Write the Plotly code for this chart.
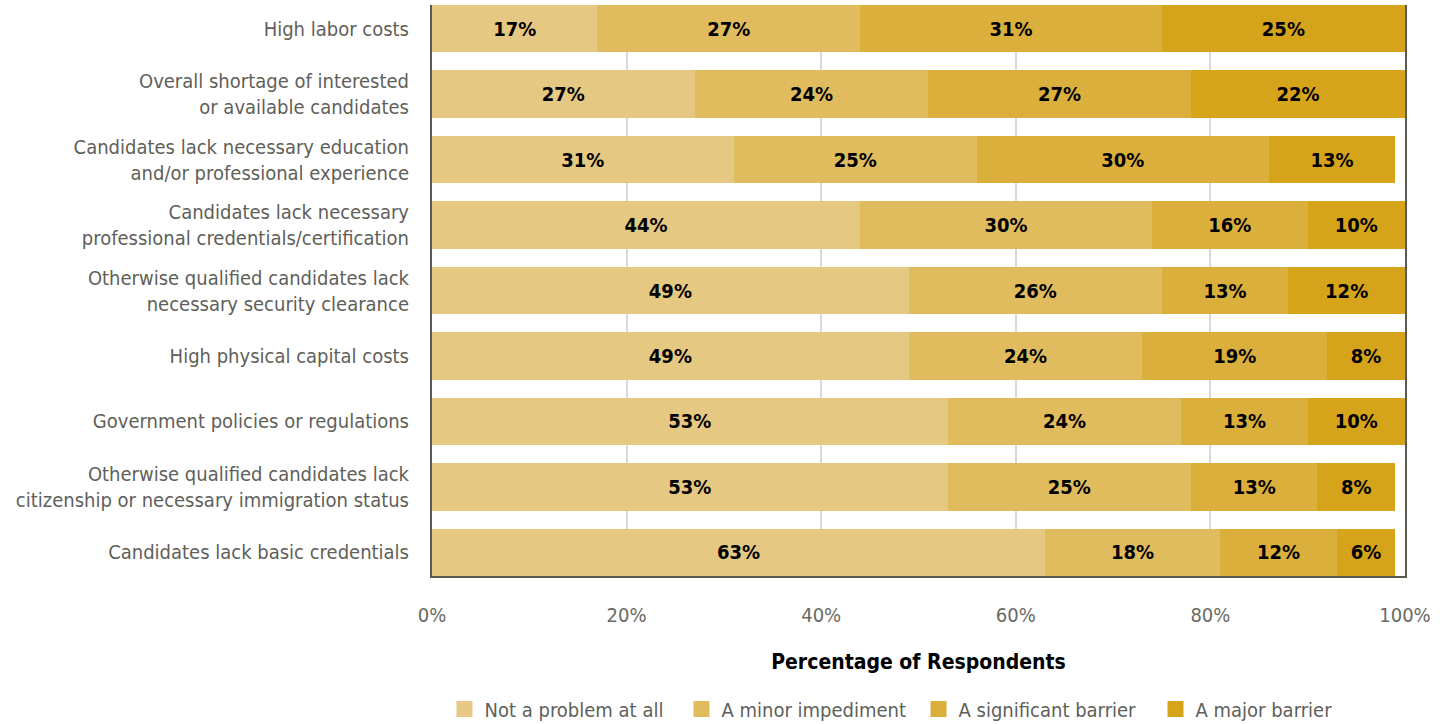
import plotly.graph_objects as go

categories = [
    "High labor costs",
    "Overall shortage of interested<br>or available candidates",
    "Candidates lack necessary education<br>and/or professional experience",
    "Candidates lack necessary<br>professional credentials/certification",
    "Otherwise qualified candidates lack<br>necessary security clearance",
    "High physical capital costs",
    "Government policies or regulations",
    "Otherwise qualified candidates lack<br>citizenship or necessary immigration status",
    "Candidates lack basic credentials",
]

series_names = ["Not a problem at all", "A minor impediment", "A significant barrier", "A major barrier"]

not_a_problem = [17, 27, 31, 44, 49, 49, 53, 53, 63]
minor_impediment = [27, 24, 25, 30, 26, 24, 24, 25, 18]
significant_barrier = [31, 27, 30, 16, 13, 19, 13, 13, 12]
major_barrier = [25, 22, 13, 10, 12, 8, 10, 8, 6]

tick_values = [0, 20, 40, 60, 80, 100]
tick_labels = ["0%", "20%", "40%", "60%", "80%", "100%"]

colors = ["#E5C882", "#E0BC5E", "#DBAF3C", "#D6A41B"]

FONT = "DejaVu Sans Condensed, Liberation Sans Narrow, sans-serif"

positions = list(range(len(categories)))
fig = go.Figure()

for name, vals, col in zip(series_names,
                           [not_a_problem, minor_impediment, significant_barrier, major_barrier],
                           colors):
    fig.add_trace(go.Bar(
        y=positions, x=vals, orientation="h", name=name,
        marker=dict(color=col, line=dict(width=0)),
        text=[f"<b>{v}%</b>" for v in vals],
        textposition="inside", insidetextanchor="middle", textangle=0,
        textfont=dict(family=FONT, size=20, color="#000000"),
        showlegend=False, hoverinfo="skip",
    ))
    # legend swatch
    fig.add_trace(go.Scatter(
        x=[None], y=[None], mode="markers", name=name,
        marker=dict(symbol="square", size=24, color=col),
        showlegend=True,
    ))

fig.update_layout(
    barmode="stack",
    bargap=0.28,
    width=1450, height=724,
    margin=dict(l=432, r=45, t=5, b=148, autoexpand=False),
    plot_bgcolor="#FFFFFF", paper_bgcolor="#FFFFFF",
    font=dict(family=FONT, size=20, color="#5f5f5a"),
    uniformtext=dict(minsize=18, mode="show"),
    legend=dict(
        orientation="h", x=0.5, xanchor="center", y=-0.233, yanchor="middle",
        font=dict(family=FONT, size=20, color="#5f5f5a"),
        entrywidth=192, itemwidth=30, traceorder="normal",
        bgcolor="rgba(0,0,0,0)",
    ),
)

fig.update_xaxes(
    range=[0, 100], tickvals=tick_values, ticktext=tick_labels,
    showgrid=True, gridcolor="#D9D9D9", gridwidth=2,
    showline=True, linecolor="#5A5A52", linewidth=2,
    zeroline=False, ticks="", ticklabelstandoff=20, automargin=False,
    tickfont=dict(family=FONT, size=20, color="#6a6a64"),
    title=dict(text="<b>Percentage of Respondents</b>", standoff=28,
               font=dict(family=FONT, size=21, color="#000000")),
)

fig.update_yaxes(
    tickvals=positions, ticktext=categories,
    range=[8.36, -0.36],
    showgrid=False, showline=True, linecolor="#5A5A52", linewidth=2, mirror=True,
    zeroline=False, ticks="", ticklabelstandoff=17, automargin=False,
    tickfont=dict(family=FONT, size=20, color="#5f5f5a"),
)

fig.write_html("out.html")
